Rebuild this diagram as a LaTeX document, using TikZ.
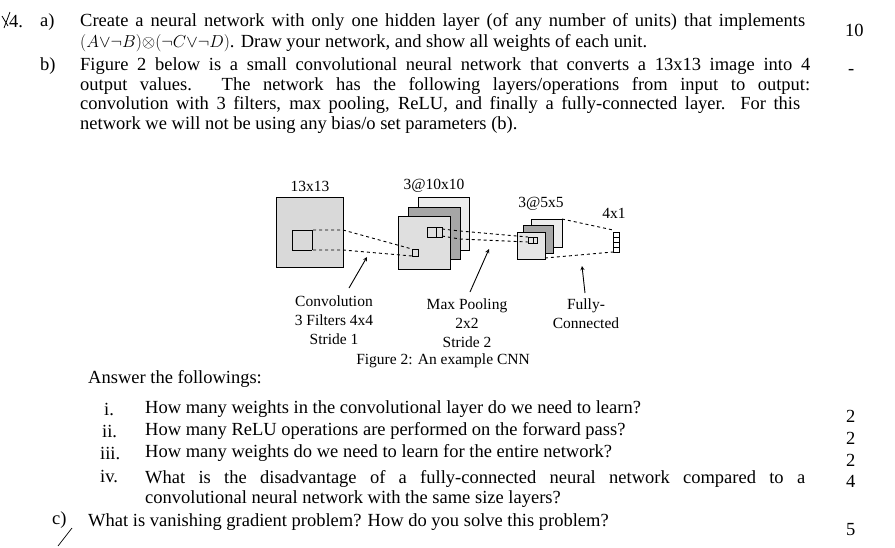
\documentclass[tikz,border=0pt]{standalone}
\usepackage{fontspec}
\setmainfont{Liberation Serif}
\begin{document}
\begin{tikzpicture}[x=1pt,y=-1pt,
  t/.style={anchor=west,inner sep=0,font=\fontsize{18.5}{20}\selectfont},
  f/.style={inner sep=0,font=\fontsize{15.5}{19}\selectfont,align=center},
  map/.style={draw,line width=1pt},
  dl/.style={draw,dashed,line width=0.9pt},
  arr/.style={draw,->,line width=0.9pt,>=stealth}]
\useasboundingbox (0,0) rectangle (895,547);
% question header
\draw[line width=0.8pt] (2,16)--(8,26) (10,12)--(4,28);
\node[t] (q4) at (9,22) {4.};
\node[t] (qa) at (40,22) {a)};
\node[t] (la1) at (80,22) {\makebox[725pt][s]{Create a neural network with only one hidden layer (of any number of units) that implements}};
\node[t] (m10) at (845,30) {10};
\node[t] (la2) at (80,43) {$(A{\vee}\neg B){\otimes}(\neg C{\vee}\neg D)$. Draw your network, and show all weights of each unit.};
\node[t] (qb) at (40,66) {b)};
\node[t] (lb1) at (80,66) {\makebox[730pt][s]{Figure 2 below is a small convolutional neural network that converts a 13x13 image into 4}};
\node[t] (mb) at (848,72) {-};
\node[t] (lb2) at (80,86) {\makebox[730pt][s]{output values. The network has the following layers/operations from input to output:}};
\node[t] (lb3) at (80,105) {\makebox[720pt][s]{convolution with 3 filters, max pooling, ReLU, and finally a fully-connected layer. For this}};
\node[t] (lb4) at (80,125) {network we will not be using any bias/o set parameters (b).};
% figure
\fill[gray!30] (276,197) rectangle (343,267);
\draw[map] (276,197) rectangle (343,267);
\draw[map] (312,230)--(292,230)--(292,250)--(312,250);
\draw[map] (312,230)--(312,250);
\fill[gray!15] (418,197) rectangle (469,250); \draw[map] (418,197) rectangle (469,250);
\fill[gray!70] (408,207) rectangle (460,259); \draw[map] (408,207) rectangle (460,259);
\fill[gray!25] (398,216) rectangle (450,269); \draw[map] (398,216) rectangle (450,269);
\draw[map] (427,227) rectangle (442,237) (436,227)--(436,237);
\draw[map] (412,249) rectangle (418,256);
\fill[gray!15] (531,219) rectangle (562,247); \draw[map] (531,219) rectangle (562,247);
\fill[gray!70] (523,225) rectangle (553,253); \draw[map] (523,225) rectangle (553,253);
\fill[gray!20] (517,232) rectangle (545,259); \draw[map] (517,232) rectangle (545,259);
\draw[map] (528,237) rectangle (537,243) (533,237)--(533,243);
\draw[map] (613,232) rectangle (619,252);
\foreach \yy in {237,242,247} \draw[line width=0.8pt] (613,\yy)--(619,\yy);
\draw[dl] (313,230)--(343,230)--(412,249);
\draw[dl] (313,250)--(343,250)--(412,256);
\draw[dl] (442,229)--(460,231)--(528,237);
\draw[dl] (442,236)--(460,239)--(528,242);
\draw[dl] (562,219)--(613,230);
\draw[dl] (545,258)--(613,252);
\node[f] (c13) at (310,186) {13x13};
\node[f] (c10) at (434,186) {3@10x10};
\node[f] (c5) at (541,204) {3@5x5};
\node[f] (c4) at (614,213) {4x1};
\node[f] (lconv) at (334,320) {Convolution\\3 Filters 4x4\\Stride 1};
\node[f] (lpool) at (467,323) {Max Pooling\\2x2\\Stride 2};
\node[f] (lfc) at (586,314) {Fully-\\Connected};
\node[f] (cap) at (443,361) {Figure 2: An example CNN};
\coordinate (a1) at (367,257); \coordinate (a2) at (489,249); \coordinate (a3) at (582,266);
\draw[arr] (349,288)--(a1);
\draw[arr] (470,292)--(a2);
\draw[arr] (585,293)--(a3);
% answers
\node[t] (ans) at (88,379) {Answer the followings:};
\node[t] (i) at (104,409) {i.};
\node[t] (qi) at (145,409) {How many weights in the convolutional layer do we need to learn?};
\node[t] (m1) at (846,416) {2};
\node[t] (ii) at (102,431) {ii.};
\node[t] (qii) at (145,431) {How many ReLU operations are performed on the forward pass?};
\node[t] (m2) at (846,438) {2};
\node[t] (iii) at (100,453) {iii.};
\node[t] (qiii) at (145,453) {How many weights do we need to learn for the entire network?};
\node[t] (m3) at (846,460) {2};
\node[t] (iv) at (100,476) {iv.};
\node[t] (qiv) at (145,479) {\makebox[660pt][s]{What is the disadvantage of a fully-connected neural network compared to a}};
\node[t] (m4) at (846,481) {4};
\node[t] (qiv2) at (145,499) {convolutional neural network with the same size layers?};
\node[t] (qc) at (52,520) {c)};
\node[t] (lc) at (88,522) {What is vanishing gradient problem? How do you solve this problem?};
\node[t] (m5) at (846,530) {5};
\draw[line width=0.7pt] (58,546)--(72,528);
\end{tikzpicture}
\end{document}
